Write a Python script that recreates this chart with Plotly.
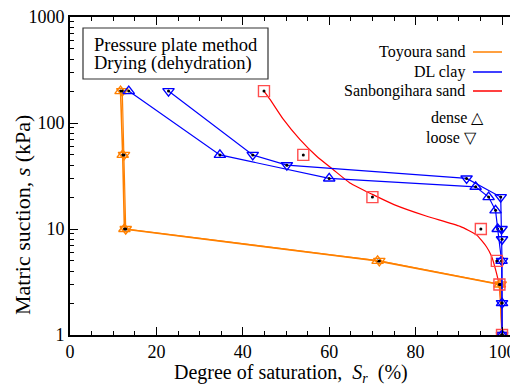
import plotly.graph_objects as go

# ---------------- data ----------------
# Toyoura sand (orange)
toyoura_dense_sr = [11.7, 12.2, 12.6, 71.2, 99.5, 100.0]
toyoura_dense_s = [200, 50, 10, 5, 3, 1]
toyoura_loose_sr = [12.1, 12.5, 12.9, 71.6, 99.7, 100.0]
toyoura_loose_s = [200, 50, 10, 5, 3, 1]

# DL clay (blue)
dl_dense_sr = [13.6, 34.7, 60.0, 93.9, 96.9, 98.5, 99.0, 99.9, 100.0, 100.0]
dl_dense_s = [200, 50, 30, 25, 20, 15, 10, 5, 2, 1]
dl_loose_sr = [22.8, 42.3, 50.2, 91.8, 99.7, 99.9, 100.0, 100.0, 100.0, 100.0]
dl_loose_s = [200, 50, 40, 30, 20, 10, 8, 5, 2, 1]

# Sanbongihara sand (red) measured points
sanbo_sr = [44.9, 54.0, 70.0, 95.1, 98.8, 99.4, 100.0]
sanbo_s = [200, 50, 20, 10, 5, 3, 1]
# Sanbongihara sand fitted curve
sanbo_fit_sr = [44.9, 46.3, 49.4, 53.2, 57.1, 60.9, 64.8, 70.0, 75.0, 82.6, 90.3, 94.1, 96.4, 97.6, 98.6, 99.3, 99.7, 100.0]
sanbo_fit_s = [200, 167, 108, 70, 48.6, 36.4, 27.2, 21.2, 17.0, 13.2, 10.6, 8.8, 6.8, 5.5, 4.0, 3.0, 2.0, 1.0]

x_ticks = [0, 20, 40, 60, 80, 100]
y_ticks = [1, 10, 100, 1000]
y_minor = [m * d for d in (1, 10, 100) for m in range(2, 10)]

ORANGE = "#ff8000"
BLUE = "#0000ff"
RED = "#ff0000"
RED_MK = "#ff4d4d"
FONT = "Liberation Serif"

OFF = 8  # page body margin
W, H = 510, 377
ML, MR, MT, MB = 62, 0, 9, 50
PW, PH = W - ML - MR, H - MT - MB


def px(x):
    return (x - OFF - ML) / PW


def py(y):
    return (H - MB - (y - OFF)) / PH


fig = go.Figure()

# fitted curve
fig.add_trace(go.Scatter(x=sanbo_fit_sr, y=sanbo_fit_s, mode="lines",
                         line=dict(color=RED, width=1.2, shape="spline", smoothing=0.5),
                         showlegend=False, hoverinfo="skip"))


def series(xs, ys, color, symbol, size, lw, mode="lines+markers"):
    fig.add_trace(go.Scatter(x=xs, y=ys, mode=mode,
                             line=dict(color=color, width=lw),
                             marker=dict(symbol=symbol, size=size, color=color,
                                         line=dict(color=color, width=1.4)),
                             showlegend=False))
    fig.add_trace(go.Scatter(x=xs, y=ys, mode="markers",
                             marker=dict(symbol="circle", size=3, color="black"),
                             showlegend=False, hoverinfo="skip"))


series(toyoura_dense_sr, toyoura_dense_s, ORANGE, "triangle-up-open", 10, 1.6)
series(toyoura_loose_sr, toyoura_loose_s, ORANGE, "triangle-down-open", 10, 1.2)
series(dl_dense_sr, dl_dense_s, BLUE, "triangle-up-open", 10, 1.2)
series(dl_loose_sr, dl_loose_s, BLUE, "triangle-down-open", 10, 1.2)
series(sanbo_sr, sanbo_s, RED_MK, "square-open", 11, 1, mode="markers")

annotations = []
shapes = []

# method box
shapes.append(dict(type="rect", xref="paper", yref="paper",
                   x0=px(83), x1=px(268), y0=py(79), y1=py(28),
                   line=dict(color="#333", width=1.2), fillcolor="white", layer="above"))
for txt, yy in (("Pressure plate method", 44.5), ("Drying (dehydration)", 63.5)):
    annotations.append(dict(xref="paper", yref="paper", x=px(92), y=py(yy),
                            xanchor="left", yanchor="middle", align="left", showarrow=False,
                            text=txt, font=dict(family=FONT, size=18.5, color="black")))

# legend
leg = [("Toyoura sand", ORANGE, 52), ("DL clay", BLUE, 72), ("Sanbongihara sand", RED, 91)]
for name, col, yy in leg:
    annotations.append(dict(xref="paper", yref="paper", x=px(467), y=py(yy),
                            xanchor="right", yanchor="middle", showarrow=False, text=name,
                            font=dict(family=FONT, size=16, color="black")))
    shapes.append(dict(type="line", xref="paper", yref="paper",
                       x0=px(473), x1=px(502), y0=py(yy), y1=py(yy),
                       line=dict(color=col, width=1.5)))
for name, yy, xr in (("dense △", 117, 486), ("loose ▽", 137, 479)):
    annotations.append(dict(xref="paper", yref="paper", x=px(xr), y=py(yy),
                            xanchor="right", yanchor="middle", showarrow=False, text=name,
                            font=dict(family=FONT, size=16, color="black")))

# axis titles
annotations.append(dict(xref="paper", yref="paper", x=px(291), y=py(373),
                        xanchor="center", yanchor="middle", showarrow=False,
                        text="Degree of saturation,  <i>S<sub>r</sub></i>  (%)",
                        font=dict(family=FONT, size=20, color="black")))
annotations.append(dict(xref="paper", yref="paper", x=px(22), y=py(215),
                        xanchor="center", yanchor="middle", showarrow=False, textangle=-90,
                        text="Matric suction, <i>s</i> (kPa)",
                        font=dict(family=FONT, size=22, color="black")))

fig.update_layout(
    width=W, height=H,
    margin=dict(l=ML, r=MR, t=MT, b=MB),
    plot_bgcolor="white", paper_bgcolor="white",
    font=dict(family=FONT, size=16, color="black"),
    showlegend=False,
    annotations=annotations, shapes=shapes,
    xaxis=dict(range=[0, 103.7], tickvals=x_ticks, ticks="inside", ticklen=8,
               tickcolor="black", tickwidth=1.2,
               showline=True, linecolor="black", linewidth=1.6, mirror="ticks",
               showgrid=False, zeroline=False, ticklabeloverflow="allow",
               minor=dict(dtick=5, tick0=0, ticks="inside", ticklen=4, tickcolor="black", showgrid=False),
               tickfont=dict(family=FONT, size=18)),
    yaxis=dict(type="log", range=[0, 3], tickvals=y_ticks, ticktext=[str(v) for v in y_ticks],
               ticks="inside", ticklen=8, tickcolor="black", tickwidth=1.2,
               showline=True, linecolor="black", linewidth=1.6,
               showgrid=False, zeroline=False, ticklabeloverflow="allow",
               minor=dict(tickmode="array", tickvals=y_minor, ticks="inside", ticklen=4,
                          tickcolor="black", showgrid=False),
               tickfont=dict(family=FONT, size=18)),
)

fig.write_html("out.html")
